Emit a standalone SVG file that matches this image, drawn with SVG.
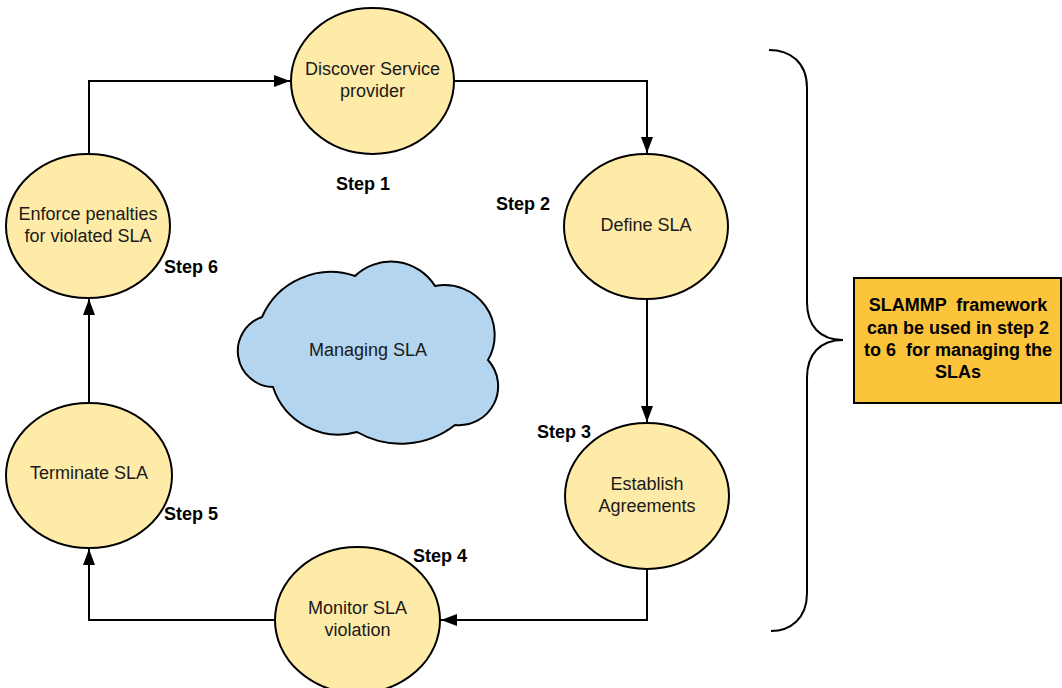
<svg xmlns="http://www.w3.org/2000/svg" width="1062" height="688" viewBox="0 0 1062 688">
<style>
.node{fill:#FFEBA8;stroke:#000;stroke-width:2}
.lbl{font-family:"Liberation Sans",Arial,sans-serif;font-size:18px;fill:#1a1a1a;text-anchor:middle}
.step{font-family:"Liberation Sans",Arial,sans-serif;font-size:18px;font-weight:bold;fill:#000}
.conn{fill:none;stroke:#000;stroke-width:2}
</style>
<defs>
<marker id="arr" markerUnits="userSpaceOnUse" markerWidth="16" markerHeight="12" viewBox="0 0 16 12" refX="16" refY="6" orient="auto">
<path d="M0,0 L16,6 L0,12 Z" fill="#000"/>
</marker>
</defs>
<rect width="1062" height="688" fill="#fff"/>
<g id="connectors">
<path class="conn" d="M89,154 L89,81 L290,81" marker-end="url(#arr)"/>
<path class="conn" d="M454,81 L647,81 L647,153" marker-end="url(#arr)"/>
<path class="conn" d="M647,299 L647,422" marker-end="url(#arr)"/>
<path class="conn" d="M647,569 L647,620 L441,620" marker-end="url(#arr)"/>
<path class="conn" d="M275,620 L89,620 L89,549" marker-end="url(#arr)"/>
<path class="conn" d="M89,403 L89,299" marker-end="url(#arr)"/>
</g>
<g id="discover">
<ellipse class="node" cx="372.5" cy="81" rx="81.5" ry="73"/>
<text class="lbl" x="372.5" y="75">Discover Service</text>
<text class="lbl" x="372.5" y="97">provider</text>
</g>
<g id="define">
<ellipse class="node" cx="646" cy="226.5" rx="82" ry="72.5"/>
<text class="lbl" x="646" y="231">Define SLA</text>
</g>
<g id="establish">
<ellipse class="node" cx="647" cy="496" rx="82" ry="73"/>
<text class="lbl" x="647" y="490">Establish</text>
<text class="lbl" x="647" y="512">Agreements</text>
</g>
<g id="monitor">
<ellipse class="node" cx="357.5" cy="620" rx="82.5" ry="73"/>
<text class="lbl" x="357.5" y="614">Monitor SLA</text>
<text class="lbl" x="357.5" y="636">violation</text>
</g>
<g id="terminate">
<ellipse class="node" cx="89" cy="475.5" rx="83" ry="72.5"/>
<text class="lbl" x="89" y="479">Terminate SLA</text>
</g>
<g id="enforce">
<ellipse class="node" cx="88" cy="226" rx="82" ry="72"/>
<text class="lbl" x="88" y="220">Enforce penalties</text>
<text class="lbl" x="88" y="242">for violated SLA</text>
</g>
<g id="cloud">
<path d="M262,317 A75,75 0 0 1 355,276 A52,52 0 0 1 435,286 A50,50 0 0 1 488,360 A39,39 0 0 1 455,425 A88,88 0 0 1 357,432 A69,69 0 0 1 273,387 A36,36 0 0 1 262,317 Z" fill="#B3D5EF" stroke="#000" stroke-width="2"/>
<text class="lbl" x="368" y="356">Managing SLA</text>
</g>
<g id="steps">
<text class="step" x="336" y="190">Step 1</text>
<text class="step" x="496" y="210">Step 2</text>
<text class="step" x="537" y="438">Step 3</text>
<text class="step" x="413" y="562">Step 4</text>
<text class="step" x="164" y="520">Step 5</text>
<text class="step" x="164" y="273">Step 6</text>
</g>
<g id="brace">
<path d="M769,50 C790,50 807,62 807,88 L807,302 C807,326 820,340 843,340 C820,340 807,354 807,378 L807,593 C807,619 790,631 771,631" fill="none" stroke="#000" stroke-width="2"/>
</g>
<g id="note">
<rect x="854" y="278" width="207" height="125" fill="#FBC43B" stroke="#000" stroke-width="2"/>
<text class="step" text-anchor="middle" x="958" y="311" xml:space="preserve">SLAMMP  framework</text>
<text class="step" text-anchor="middle" x="958" y="334">can be used in step 2</text>
<text class="step" text-anchor="middle" x="958" y="356" xml:space="preserve">to 6  for managing the</text>
<text class="step" text-anchor="middle" x="958" y="378">SLAs</text>
</g>
</svg>
